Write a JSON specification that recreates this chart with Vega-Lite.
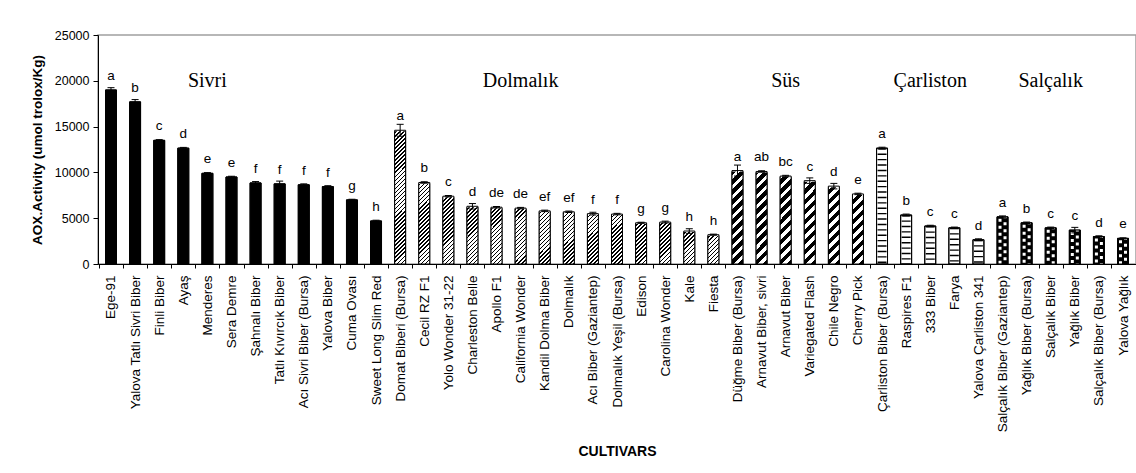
{
"$schema": "https://vega.github.io/schema/vega-lite/v6.json",
"width": 1136, "height": 229,
"autosize": {"type": "fit-x", "contains": "padding"},
"padding": {"left": 30, "top": 29, "right": 0, "bottom": 5},
"background": "white",
"config": {
  "font": "Liberation Sans",
  "view": {"stroke": "#a0a0a0", "strokeWidth": 1.5},
  "axis": {"labelFont": "Liberation Sans", "titleFont": "Liberation Sans", "labelColor": "#000", "titleColor": "#000", "domainColor": "#000", "tickColor": "#000", "grid": false}
},
"data": {"values": [
 {"c": "Ege-91", "g": "Sivri", "v": 19000, "lo": 18750, "hi": 19250, "l": "a"},
 {"c": "Yalova Tatlı Sivri Biber", "g": "Sivri", "v": 17700, "lo": 17450, "hi": 17950, "l": "b"},
 {"c": "Finli Biber", "g": "Sivri", "v": 13500, "lo": 13420, "hi": 13580, "l": "c"},
 {"c": "Ayaş", "g": "Sivri", "v": 12650, "lo": 12570, "hi": 12730, "l": "d"},
 {"c": "Menderes", "g": "Sivri", "v": 9900, "lo": 9820, "hi": 9980, "l": "e", "gl": "Sivri"},
 {"c": "Sera Demre", "g": "Sivri", "v": 9500, "lo": 9420, "hi": 9580, "l": "e"},
 {"c": "Şahnalı Biber", "g": "Sivri", "v": 8850, "lo": 8700, "hi": 9000, "l": "f"},
 {"c": "Tatlı Kıvırcık Biber", "g": "Sivri", "v": 8750, "lo": 8450, "hi": 9050, "l": "f"},
 {"c": "Acı Sivri Biber (Bursa)", "g": "Sivri", "v": 8650, "lo": 8550, "hi": 8750, "l": "f"},
 {"c": "Yalova Biber", "g": "Sivri", "v": 8450, "lo": 8350, "hi": 8550, "l": "f"},
 {"c": "Cuma Ovası", "g": "Sivri", "v": 7000, "lo": 6920, "hi": 7080, "l": "g"},
 {"c": "Sweet Long Slim Red", "g": "Sivri", "v": 4700, "lo": 4620, "hi": 4780, "l": "h"},
 {"c": "Domat Biberi (Bursa)", "g": "Dolmalık", "v": 14600, "lo": 13950, "hi": 15250, "l": "a"},
 {"c": "Cecil RZ F1", "g": "Dolmalık", "v": 8900, "lo": 8820, "hi": 8980, "l": "b"},
 {"c": "Yolo Wonder 31-22", "g": "Dolmalık", "v": 7400, "lo": 7320, "hi": 7480, "l": "c"},
 {"c": "Charleston Belle", "g": "Dolmalık", "v": 6300, "lo": 6000, "hi": 6600, "l": "d"},
 {"c": "Apollo F1", "g": "Dolmalık", "v": 6200, "lo": 6120, "hi": 6280, "l": "de"},
 {"c": "California Wonder", "g": "Dolmalık", "v": 6100, "lo": 6020, "hi": 6180, "l": "de", "gl": "Dolmalık"},
 {"c": "Kandil Dolma Biber", "g": "Dolmalık", "v": 5800, "lo": 5720, "hi": 5880, "l": "ef"},
 {"c": "Dolmalık", "g": "Dolmalık", "v": 5700, "lo": 5620, "hi": 5780, "l": "ef"},
 {"c": "Acı Biber (Gaziantep)", "g": "Dolmalık", "v": 5500, "lo": 5350, "hi": 5650, "l": "f"},
 {"c": "Dolmalık Yeşil (Bursa)", "g": "Dolmalık", "v": 5450, "lo": 5370, "hi": 5530, "l": "f"},
 {"c": "Edison", "g": "Dolmalık", "v": 4500, "lo": 4440, "hi": 4560, "l": "g"},
 {"c": "Carolina Wonder", "g": "Dolmalık", "v": 4580, "lo": 4480, "hi": 4680, "l": "g"},
 {"c": "Kale", "g": "Dolmalık", "v": 3600, "lo": 3350, "hi": 3850, "l": "h"},
 {"c": "Fiesta", "g": "Dolmalık", "v": 3200, "lo": 3140, "hi": 3260, "l": "h"},
 {"c": "Düğme Biber (Bursa)", "g": "Süs", "v": 10200, "lo": 9600, "hi": 10800, "l": "a"},
 {"c": "Arnavut Biber, sivri", "g": "Süs", "v": 10100, "lo": 10020, "hi": 10180, "l": "ab"},
 {"c": "Arnavut Biber", "g": "Süs", "v": 9600, "lo": 9520, "hi": 9680, "l": "bc", "gl": "Süs"},
 {"c": "Variegated Flash", "g": "Süs", "v": 9100, "lo": 8800, "hi": 9400, "l": "c"},
 {"c": "Chile Negro", "g": "Süs", "v": 8500, "lo": 8200, "hi": 8800, "l": "d"},
 {"c": "Cherry Pick", "g": "Süs", "v": 7650, "lo": 7570, "hi": 7730, "l": "e"},
 {"c": "Çarliston Biber (Bursa)", "g": "Çarliston", "v": 12650, "lo": 12550, "hi": 12750, "l": "a"},
 {"c": "Raspires F1", "g": "Çarliston", "v": 5350, "lo": 5250, "hi": 5450, "l": "b"},
 {"c": "333 Biber", "g": "Çarliston", "v": 4150, "lo": 4070, "hi": 4230, "l": "c", "gl": "Çarliston"},
 {"c": "Farya", "g": "Çarliston", "v": 3950, "lo": 3870, "hi": 4030, "l": "c"},
 {"c": "Yalova Çarliston 341", "g": "Çarliston", "v": 2650, "lo": 2550, "hi": 2750, "l": "d"},
 {"c": "Salçalık Biber (Gaziantep)", "g": "Salçalık", "v": 5150, "lo": 5050, "hi": 5250, "l": "a"},
 {"c": "Yağlık Biber (Bursa)", "g": "Salçalık", "v": 4500, "lo": 4420, "hi": 4580, "l": "b"},
 {"c": "Salçalık Biber", "g": "Salçalık", "v": 3950, "lo": 3870, "hi": 4030, "l": "c", "gl": "Salçalık"},
 {"c": "Yağlık Biber", "g": "Salçalık", "v": 3700, "lo": 3400, "hi": 4000, "l": "c"},
 {"c": "Salçalık Biber (Bursa)", "g": "Salçalık", "v": 3000, "lo": 2920, "hi": 3080, "l": "d"},
 {"c": "Yalova Yağlık", "g": "Salçalık", "v": 2800, "lo": 2740, "hi": 2860, "l": "e"}
]},
"encoding": {
  "x": {"field": "c", "type": "nominal", "sort": null,
        "scale": {"paddingInner": 0.545, "paddingOuter": 0.312},
        "axis": {"title": "CULTIVARS", "labelAngle": -90, "labelFontSize": 13.5, "tickSize": 4, "labelPadding": 7,
                 "tickOffset": -12.05, "labelOffset": 12.05, "titleFontSize": 14, "titleFontWeight": "bold",
                 "titlePadding": 13, "labelOverlap": false, "labelLimit": 300}},
  "y": {"field": "v", "type": "quantitative", "title": "AOX.Activity (umol trolox/Kg)",
        "scale": {"domain": [0, 25000], "nice": false},
        "axis": {"values": [0, 5000, 10000, 15000, 20000, 25000], "format": "d", "labelFontSize": 12.5, "tickSize": 5,
                 "labelPadding": 4, "titleFontSize": 13.5, "titleFontWeight": "bold", "titlePadding": 10}}
},
"layer": [
 {"mark": {"type": "bar", "stroke": "#000", "strokeWidth": 1},
  "encoding": {"fill": {"field": "g", "type": "nominal",
     "scale": {"domain": ["Sivri", "Dolmalık", "Süs", "Çarliston", "Salçalık"], "range": ["#000", "#fff", "#fff", "#fff", "#000"]},
     "legend": null}}},
 {"transform": [{"filter": "datum.g === 'Dolmalık'"}],
  "mark": {"type": "bar", "strokeWidth": 0, "fill": {"gradient": "linear", "x1": 0, "y1": 0, "x2": 0.0878, "y2": 1.0746, "stops": [
   {"offset":0,"color":"#fff"},{"offset":0.01722,"color":"#fff"},{"offset":0.01722,"color":"#000"},{"offset":0.02778,"color":"#000"},
   {"offset":0.02778,"color":"#fff"},{"offset":0.045,"color":"#fff"},{"offset":0.045,"color":"#000"},{"offset":0.05556,"color":"#000"},
   {"offset":0.05556,"color":"#fff"},{"offset":0.07278,"color":"#fff"},{"offset":0.07278,"color":"#000"},{"offset":0.08333,"color":"#000"},
   {"offset":0.08333,"color":"#fff"},{"offset":0.10056,"color":"#fff"},{"offset":0.10056,"color":"#000"},{"offset":0.11111,"color":"#000"},
   {"offset":0.11111,"color":"#fff"},{"offset":0.12833,"color":"#fff"},{"offset":0.12833,"color":"#000"},{"offset":0.13889,"color":"#000"},
   {"offset":0.13889,"color":"#fff"},{"offset":0.15611,"color":"#fff"},{"offset":0.15611,"color":"#000"},{"offset":0.16667,"color":"#000"},
   {"offset":0.16667,"color":"#fff"},{"offset":0.18389,"color":"#fff"},{"offset":0.18389,"color":"#000"},{"offset":0.19444,"color":"#000"},
   {"offset":0.19444,"color":"#fff"},{"offset":0.21167,"color":"#fff"},{"offset":0.21167,"color":"#000"},{"offset":0.22222,"color":"#000"},
   {"offset":0.22222,"color":"#fff"},{"offset":0.23944,"color":"#fff"},{"offset":0.23944,"color":"#000"},{"offset":0.25,"color":"#000"},
   {"offset":0.25,"color":"#fff"},{"offset":0.26722,"color":"#fff"},{"offset":0.26722,"color":"#000"},{"offset":0.27778,"color":"#000"},
   {"offset":0.27778,"color":"#fff"},{"offset":0.295,"color":"#fff"},{"offset":0.295,"color":"#000"},{"offset":0.30556,"color":"#000"},
   {"offset":0.30556,"color":"#fff"},{"offset":0.32278,"color":"#fff"},{"offset":0.32278,"color":"#000"},{"offset":0.33333,"color":"#000"},
   {"offset":0.33333,"color":"#fff"},{"offset":0.35056,"color":"#fff"},{"offset":0.35056,"color":"#000"},{"offset":0.36111,"color":"#000"},
   {"offset":0.36111,"color":"#fff"},{"offset":0.37833,"color":"#fff"},{"offset":0.37833,"color":"#000"},{"offset":0.38889,"color":"#000"},
   {"offset":0.38889,"color":"#fff"},{"offset":0.40611,"color":"#fff"},{"offset":0.40611,"color":"#000"},{"offset":0.41667,"color":"#000"},
   {"offset":0.41667,"color":"#fff"},{"offset":0.43389,"color":"#fff"},{"offset":0.43389,"color":"#000"},{"offset":0.44444,"color":"#000"},
   {"offset":0.44444,"color":"#fff"},{"offset":0.46167,"color":"#fff"},{"offset":0.46167,"color":"#000"},{"offset":0.47222,"color":"#000"},
   {"offset":0.47222,"color":"#fff"},{"offset":0.48944,"color":"#fff"},{"offset":0.48944,"color":"#000"},{"offset":0.5,"color":"#000"},
   {"offset":0.5,"color":"#fff"},{"offset":0.51722,"color":"#fff"},{"offset":0.51722,"color":"#000"},{"offset":0.52778,"color":"#000"},
   {"offset":0.52778,"color":"#fff"},{"offset":0.545,"color":"#fff"},{"offset":0.545,"color":"#000"},{"offset":0.55556,"color":"#000"},
   {"offset":0.55556,"color":"#fff"},{"offset":0.57278,"color":"#fff"},{"offset":0.57278,"color":"#000"},{"offset":0.58333,"color":"#000"},
   {"offset":0.58333,"color":"#fff"},{"offset":0.60056,"color":"#fff"},{"offset":0.60056,"color":"#000"},{"offset":0.61111,"color":"#000"},
   {"offset":0.61111,"color":"#fff"},{"offset":0.62833,"color":"#fff"},{"offset":0.62833,"color":"#000"},{"offset":0.63889,"color":"#000"},
   {"offset":0.63889,"color":"#fff"},{"offset":0.65611,"color":"#fff"},{"offset":0.65611,"color":"#000"},{"offset":0.66667,"color":"#000"},
   {"offset":0.66667,"color":"#fff"},{"offset":0.68389,"color":"#fff"},{"offset":0.68389,"color":"#000"},{"offset":0.69444,"color":"#000"},
   {"offset":0.69444,"color":"#fff"},{"offset":0.71167,"color":"#fff"},{"offset":0.71167,"color":"#000"},{"offset":0.72222,"color":"#000"},
   {"offset":0.72222,"color":"#fff"},{"offset":0.73944,"color":"#fff"},{"offset":0.73944,"color":"#000"},{"offset":0.75,"color":"#000"},
   {"offset":0.75,"color":"#fff"},{"offset":0.76722,"color":"#fff"},{"offset":0.76722,"color":"#000"},{"offset":0.77778,"color":"#000"},
   {"offset":0.77778,"color":"#fff"},{"offset":0.795,"color":"#fff"},{"offset":0.795,"color":"#000"},{"offset":0.80556,"color":"#000"},
   {"offset":0.80556,"color":"#fff"},{"offset":0.82278,"color":"#fff"},{"offset":0.82278,"color":"#000"},{"offset":0.83333,"color":"#000"},
   {"offset":0.83333,"color":"#fff"},{"offset":0.85056,"color":"#fff"},{"offset":0.85056,"color":"#000"},{"offset":0.86111,"color":"#000"},
   {"offset":0.86111,"color":"#fff"},{"offset":0.87833,"color":"#fff"},{"offset":0.87833,"color":"#000"},{"offset":0.88889,"color":"#000"},
   {"offset":0.88889,"color":"#fff"},{"offset":0.90611,"color":"#fff"},{"offset":0.90611,"color":"#000"},{"offset":0.91667,"color":"#000"},
   {"offset":0.91667,"color":"#fff"},{"offset":0.93389,"color":"#fff"},{"offset":0.93389,"color":"#000"},{"offset":0.94444,"color":"#000"},
   {"offset":0.94444,"color":"#fff"},{"offset":0.96167,"color":"#fff"},{"offset":0.96167,"color":"#000"},{"offset":0.97222,"color":"#000"},
   {"offset":0.97222,"color":"#fff"},{"offset":0.98944,"color":"#fff"},{"offset":0.98944,"color":"#000"},{"offset":1,"color":"#000"}
  ]}},
  "encoding": {"y": {"datum": 14700, "type": "quantitative"}, "y2": {"datum": 0}}},
 {"transform": [{"filter": "datum.g === 'Dolmalık'"}],
  "mark": {"type": "bar", "fill": "#fff", "stroke": "#fff", "strokeWidth": 2},
  "encoding": {"y2": {"datum": 14700}}},
 {"transform": [{"filter": "datum.g === 'Süs'"}],
  "mark": {"type": "bar", "strokeWidth": 0, "fill": {"gradient": "linear", "x1": 0, "y1": 0, "x2": 0.1285, "y2": 1.1017, "stops": [
   {"offset":0,"color":"#000"},{"offset":0.05238,"color":"#000"},{"offset":0.05238,"color":"#fff"},{"offset":0.09524,"color":"#fff"},
   {"offset":0.09524,"color":"#000"},{"offset":0.14762,"color":"#000"},{"offset":0.14762,"color":"#fff"},{"offset":0.19048,"color":"#fff"},
   {"offset":0.19048,"color":"#000"},{"offset":0.24286,"color":"#000"},{"offset":0.24286,"color":"#fff"},{"offset":0.28571,"color":"#fff"},
   {"offset":0.28571,"color":"#000"},{"offset":0.3381,"color":"#000"},{"offset":0.3381,"color":"#fff"},{"offset":0.38095,"color":"#fff"},
   {"offset":0.38095,"color":"#000"},{"offset":0.43333,"color":"#000"},{"offset":0.43333,"color":"#fff"},{"offset":0.47619,"color":"#fff"},
   {"offset":0.47619,"color":"#000"},{"offset":0.52857,"color":"#000"},{"offset":0.52857,"color":"#fff"},{"offset":0.57143,"color":"#fff"},
   {"offset":0.57143,"color":"#000"},{"offset":0.62381,"color":"#000"},{"offset":0.62381,"color":"#fff"},{"offset":0.66667,"color":"#fff"},
   {"offset":0.66667,"color":"#000"},{"offset":0.71905,"color":"#000"},{"offset":0.71905,"color":"#fff"},{"offset":0.7619,"color":"#fff"},
   {"offset":0.7619,"color":"#000"},{"offset":0.81429,"color":"#000"},{"offset":0.81429,"color":"#fff"},{"offset":0.85714,"color":"#fff"},
   {"offset":0.85714,"color":"#000"},{"offset":0.90952,"color":"#000"},{"offset":0.90952,"color":"#fff"},{"offset":0.95238,"color":"#fff"},
   {"offset":0.95238,"color":"#000"},{"offset":1,"color":"#000"}
  ]}},
  "encoding": {"y": {"datum": 10300, "type": "quantitative"}, "y2": {"datum": 0}}},
 {"transform": [{"filter": "datum.g === 'Süs'"}],
  "mark": {"type": "bar", "fill": "#fff", "stroke": "#fff", "strokeWidth": 2},
  "encoding": {"y2": {"datum": 10300}}},
 {"transform": [{"filter": "datum.g === 'Çarliston'"}],
  "mark": {"type": "rule", "stroke": "#000", "strokeWidth": 9, "strokeDash": [1.4, 4], "strokeCap": "butt"},
  "encoding": {"y2": {"datum": 0}}},
 {"transform": [{"filter": "datum.g === 'Salçalık'"}],
  "mark": {"type": "rule", "stroke": "#fff", "strokeWidth": 3, "strokeDash": [3, 4], "strokeDashOffset": 5, "strokeCap": "butt", "xOffset": -2.5},
  "encoding": {"y2": {"datum": 0}}},
 {"transform": [{"filter": "datum.g === 'Salçalık'"}],
  "mark": {"type": "rule", "stroke": "#fff", "strokeWidth": 3, "strokeDash": [3, 4], "strokeDashOffset": 1.5, "strokeCap": "butt", "xOffset": 2.5},
  "encoding": {"y2": {"datum": 0}}},
 {"mark": {"type": "bar", "filled": false, "stroke": "#000", "strokeWidth": 1}},
 {"mark": {"type": "rule", "stroke": "#000", "strokeWidth": 1},
  "encoding": {"y": {"field": "lo", "type": "quantitative", "title": "AOX.Activity (umol trolox/Kg)"}, "y2": {"field": "hi"}}},
 {"mark": {"type": "tick", "color": "#000", "size": 7, "thickness": 1, "opacity": 1},
  "encoding": {"y": {"field": "hi", "type": "quantitative", "title": "AOX.Activity (umol trolox/Kg)"}}},
 {"mark": {"type": "tick", "color": "#000", "size": 7, "thickness": 1, "opacity": 1},
  "encoding": {"y": {"field": "lo", "type": "quantitative", "title": "AOX.Activity (umol trolox/Kg)"}}},
 {"mark": {"type": "text", "fontSize": 13.5, "dy": -14, "baseline": "middle", "color": "#000"},
  "encoding": {"text": {"field": "l"}}},
 {"transform": [{"filter": "datum.gl"}],
  "mark": {"type": "text", "font": "Liberation Serif", "fontSize": 20, "baseline": "middle", "color": "#000"},
  "encoding": {"text": {"field": "gl"}, "y": {"datum": 20000, "type": "quantitative"}}}
]
}
